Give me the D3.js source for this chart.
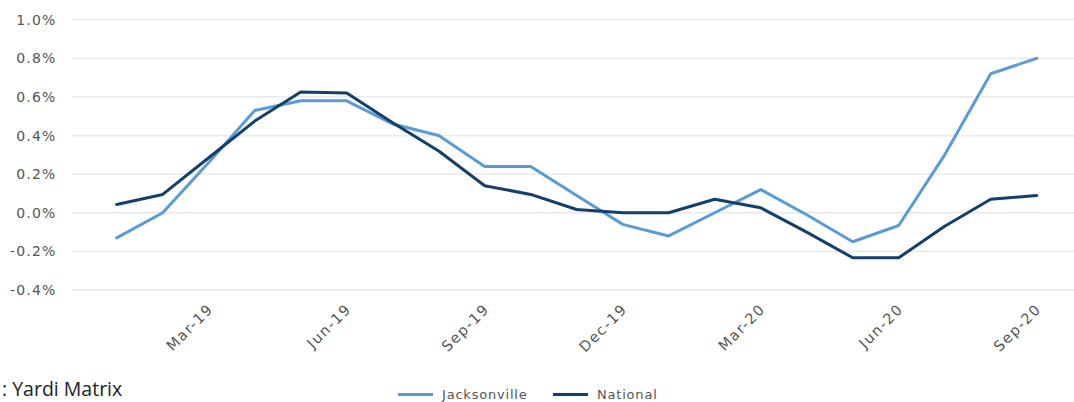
<!DOCTYPE html>
<html><head><meta charset="utf-8">
<script src="https://cdn.jsdelivr.net/npm/d3@7"></script>
<style>
body{margin:0;background:#fff;}
svg{display:block;}
</style></head>
<body><svg id="c" width="1074" height="402"></svg>
<script>
const months = ["Jan-19","Feb-19","Mar-19","Apr-19","May-19","Jun-19","Jul-19","Aug-19","Sep-19","Oct-19","Nov-19","Dec-19","Jan-20","Feb-20","Mar-20","Apr-20","May-20","Jun-20","Jul-20","Aug-20","Sep-20"];
const tickLabels = ["Mar-19","Jun-19","Sep-19","Dec-19","Mar-20","Jun-20","Sep-20"];
const yTicks = [-0.4,-0.2,0,0.2,0.4,0.6,0.8,1.0];
const jacksonville = [-0.13,0.00,0.26,0.53,0.58,0.58,0.46,0.40,0.24,0.24,0.09,-0.06,-0.12,0.00,0.12,-0.01,-0.15,-0.066,0.30,0.72,0.80];
const national = [0.043,0.095,0.285,0.475,0.625,0.62,0.466,0.32,0.14,0.095,0.017,0.0,0.0,0.07,0.026,-0.10,-0.233,-0.233,-0.07,0.07,0.09];
const seriesNames = ["Jacksonville","National"];
const colors = ["#5b9bd5","#133f6c"];

const svg = d3.select("#c");
const x = d3.scalePoint().domain(months).range([93.7,1059.7]).padding(0.5);
const y = d3.scaleLinear().domain([-0.4,1.0]).range([290,19.7]);
const font = "'DejaVu Sans', Verdana, sans-serif";

// gridlines
svg.append("g").selectAll("line").data(yTicks).join("line")
  .attr("x1",72).attr("x2",1074)
  .attr("y1",d=>y(d)).attr("y2",d=>y(d))
  .attr("stroke","#ececec").attr("stroke-width",1.8);

// y axis
const yAxis = d3.axisLeft(y).tickValues(yTicks).tickSize(0).tickPadding(0)
  .tickFormat(d=>d3.format(".1f")(d).replace("\u2212","-")+"%");
const gy = svg.append("g").attr("transform","translate(56.5,0)").call(yAxis);
gy.select(".domain").remove();
gy.selectAll("text").attr("font-family",font).attr("font-size",14).attr("fill","#555")
  .attr("letter-spacing","1.2px");

// x axis
const xAxis = d3.axisBottom(x).tickValues(tickLabels).tickSize(0).tickPadding(0);
const gx = svg.append("g").attr("transform","translate(0,310)").call(xAxis);
gx.select(".domain").remove();
gx.selectAll("text").attr("font-family",font).attr("font-size",14.5).attr("fill","#555")
  .attr("letter-spacing","1.5px")
  .attr("text-anchor","end").attr("dy","0").attr("y",0)
  .attr("transform","translate(5,0) rotate(-45)");

// lines
const data = [jacksonville, national];
const line = d3.line().x((d,i)=>x(months[i])).y(d=>y(d));
svg.append("g").selectAll("path").data(data).join("path")
  .attr("d",line).attr("fill","none")
  .attr("stroke",(d,i)=>colors[i]).attr("stroke-width",3)
  .attr("stroke-linejoin","round").attr("stroke-linecap","round");

// legend
const legX = [398,553];
const lg = svg.append("g");
seriesNames.forEach((n,i)=>{
  lg.append("line").attr("x1",legX[i]).attr("x2",legX[i]+35).attr("y1",394.5).attr("y2",394.5)
    .attr("stroke",colors[i]).attr("stroke-width",3);
  lg.append("text").attr("x",legX[i]+44).attr("y",394.5).attr("dy","0.35em")
    .attr("font-family",font).attr("font-size",13).attr("fill","#555")
    .attr("letter-spacing","0.8px").text(n);
});

// source (only the visible part of the clipped credit line)
svg.append("text").attr("x",2).attr("y",396).attr("font-family","'Open Sans', sans-serif")
  .attr("font-size",19.5).attr("fill","#222").text(": Yardi Matrix");
</script></body></html>
